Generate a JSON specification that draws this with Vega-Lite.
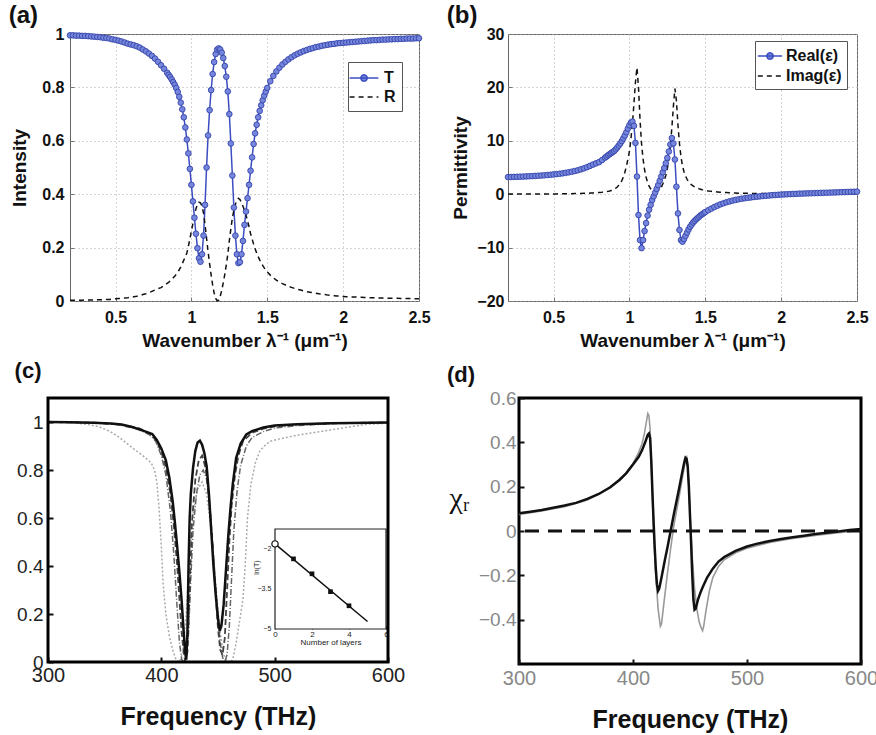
{
"$schema": "https://vega.github.io/schema/vega-lite/v6.json",
"background": "white",
"padding": {"left": 8, "top": 3, "right": 4, "bottom": 2},
"config": {"font": "Liberation Sans", "axis": {"labelFont": "Liberation Sans", "titleFont": "Liberation Sans"}, "title": {"font": "Liberation Sans"}},
"datasets": {
"ab": [
{"x":0.20,"T":0.995,"R":0.003,"Re":3.20,"Im":0.02},
{"x":0.22,"T":0.995,"R":0.003,"Re":3.22,"Im":0.02},
{"x":0.24,"T":0.994,"R":0.003,"Re":3.24,"Im":0.02},
{"x":0.26,"T":0.994,"R":0.003,"Re":3.26,"Im":0.02},
{"x":0.28,"T":0.993,"R":0.003,"Re":3.28,"Im":0.02},
{"x":0.30,"T":0.993,"R":0.004,"Re":3.30,"Im":0.03},
{"x":0.32,"T":0.992,"R":0.004,"Re":3.33,"Im":0.03},
{"x":0.34,"T":0.991,"R":0.004,"Re":3.36,"Im":0.03},
{"x":0.36,"T":0.990,"R":0.004,"Re":3.39,"Im":0.03},
{"x":0.38,"T":0.989,"R":0.005,"Re":3.42,"Im":0.04},
{"x":0.40,"T":0.988,"R":0.005,"Re":3.46,"Im":0.04},
{"x":0.42,"T":0.986,"R":0.005,"Re":3.50,"Im":0.04},
{"x":0.44,"T":0.985,"R":0.006,"Re":3.54,"Im":0.05},
{"x":0.46,"T":0.983,"R":0.006,"Re":3.59,"Im":0.05},
{"x":0.48,"T":0.980,"R":0.007,"Re":3.64,"Im":0.05},
{"x":0.50,"T":0.978,"R":0.008,"Re":3.70,"Im":0.06},
{"x":0.52,"T":0.975,"R":0.009,"Re":3.76,"Im":0.06},
{"x":0.54,"T":0.972,"R":0.010,"Re":3.83,"Im":0.07},
{"x":0.56,"T":0.968,"R":0.011,"Re":3.91,"Im":0.07},
{"x":0.58,"T":0.964,"R":0.012,"Re":4.00,"Im":0.08},
{"x":0.60,"T":0.961,"R":0.014,"Re":4.10,"Im":0.09},
{"x":0.62,"T":0.958,"R":0.016,"Re":4.21,"Im":0.10},
{"x":0.64,"T":0.954,"R":0.018,"Re":4.34,"Im":0.11},
{"x":0.66,"T":0.949,"R":0.021,"Re":4.48,"Im":0.12},
{"x":0.68,"T":0.942,"R":0.024,"Re":4.65,"Im":0.14},
{"x":0.70,"T":0.935,"R":0.027,"Re":4.84,"Im":0.16},
{"x":0.72,"T":0.927,"R":0.031,"Re":5.05,"Im":0.18},
{"x":0.74,"T":0.918,"R":0.036,"Re":5.30,"Im":0.21},
{"x":0.76,"T":0.908,"R":0.041,"Re":5.55,"Im":0.24},
{"x":0.78,"T":0.896,"R":0.046,"Re":5.78,"Im":0.28},
{"x":0.80,"T":0.883,"R":0.050,"Re":6.00,"Im":0.32},
{"x":0.82,"T":0.870,"R":0.058,"Re":6.40,"Im":0.37},
{"x":0.84,"T":0.855,"R":0.066,"Re":6.85,"Im":0.44},
{"x":0.85,"T":0.847,"R":0.070,"Re":7.05,"Im":0.48},
{"x":0.86,"T":0.839,"R":0.075,"Re":7.30,"Im":0.53},
{"x":0.87,"T":0.830,"R":0.081,"Re":7.50,"Im":0.60},
{"x":0.88,"T":0.820,"R":0.087,"Re":7.70,"Im":0.68},
{"x":0.89,"T":0.810,"R":0.093,"Re":7.90,"Im":0.80},
{"x":0.90,"T":0.798,"R":0.100,"Re":8.10,"Im":0.95},
{"x":0.91,"T":0.783,"R":0.108,"Re":8.40,"Im":1.12},
{"x":0.92,"T":0.765,"R":0.117,"Re":8.75,"Im":1.35},
{"x":0.93,"T":0.743,"R":0.128,"Re":9.10,"Im":1.65},
{"x":0.94,"T":0.718,"R":0.140,"Re":9.50,"Im":2.05},
{"x":0.95,"T":0.688,"R":0.153,"Re":9.95,"Im":2.55},
{"x":0.96,"T":0.650,"R":0.166,"Re":10.45,"Im":3.20},
{"x":0.97,"T":0.605,"R":0.180,"Re":11.00,"Im":4.10},
{"x":0.98,"T":0.553,"R":0.205,"Re":11.60,"Im":5.20},
{"x":0.99,"T":0.495,"R":0.232,"Re":12.30,"Im":6.50},
{"x":1.00,"T":0.435,"R":0.262,"Re":12.90,"Im":8.00},
{"x":1.01,"T":0.373,"R":0.290,"Re":13.40,"Im":10.30},
{"x":1.02,"T":0.312,"R":0.320,"Re":13.60,"Im":13.20},
{"x":1.03,"T":0.252,"R":0.345,"Re":12.80,"Im":17.00},
{"x":1.04,"T":0.198,"R":0.362,"Re":9.60,"Im":21.00},
{"x":1.05,"T":0.160,"R":0.370,"Re":3.30,"Im":23.70},
{"x":1.06,"T":0.147,"R":0.368,"Re":-3.90,"Im":20.00},
{"x":1.07,"T":0.175,"R":0.355,"Re":-8.60,"Im":14.00},
{"x":1.08,"T":0.245,"R":0.330,"Re":-10.10,"Im":9.50},
{"x":1.09,"T":0.360,"R":0.285,"Re":-8.60,"Im":6.60},
{"x":1.10,"T":0.500,"R":0.235,"Re":-6.90,"Im":4.60},
{"x":1.11,"T":0.620,"R":0.185,"Re":-5.40,"Im":3.20},
{"x":1.12,"T":0.715,"R":0.140,"Re":-4.00,"Im":2.20},
{"x":1.13,"T":0.790,"R":0.098,"Re":-2.90,"Im":1.50},
{"x":1.14,"T":0.850,"R":0.060,"Re":-2.00,"Im":1.00},
{"x":1.15,"T":0.895,"R":0.030,"Re":-1.10,"Im":0.70},
{"x":1.16,"T":0.925,"R":0.010,"Re":-0.40,"Im":0.50},
{"x":1.17,"T":0.942,"R":0.001,"Re":0.30,"Im":0.45},
{"x":1.18,"T":0.946,"R":0.003,"Re":1.00,"Im":0.50},
{"x":1.19,"T":0.942,"R":0.018,"Re":1.70,"Im":0.65},
{"x":1.20,"T":0.930,"R":0.040,"Re":2.50,"Im":0.90},
{"x":1.21,"T":0.910,"R":0.068,"Re":3.30,"Im":1.30},
{"x":1.22,"T":0.880,"R":0.100,"Re":4.10,"Im":1.90},
{"x":1.23,"T":0.840,"R":0.135,"Re":4.90,"Im":2.60},
{"x":1.24,"T":0.785,"R":0.175,"Re":5.80,"Im":3.50},
{"x":1.25,"T":0.700,"R":0.225,"Re":6.80,"Im":4.80},
{"x":1.26,"T":0.590,"R":0.270,"Re":8.00,"Im":6.50},
{"x":1.27,"T":0.470,"R":0.310,"Re":9.30,"Im":9.00},
{"x":1.28,"T":0.350,"R":0.340,"Re":10.50,"Im":12.50},
{"x":1.29,"T":0.245,"R":0.362,"Re":9.50,"Im":16.50},
{"x":1.30,"T":0.175,"R":0.378,"Re":6.50,"Im":19.80},
{"x":1.31,"T":0.142,"R":0.385,"Re":1.40,"Im":17.50},
{"x":1.32,"T":0.146,"R":0.380,"Re":-3.60,"Im":13.00},
{"x":1.33,"T":0.175,"R":0.368,"Re":-6.70,"Im":9.50},
{"x":1.34,"T":0.225,"R":0.355,"Re":-8.60,"Im":7.00},
{"x":1.35,"T":0.285,"R":0.340,"Re":-8.90,"Im":5.30},
{"x":1.36,"T":0.335,"R":0.322,"Re":-8.40,"Im":4.20},
{"x":1.37,"T":0.385,"R":0.300,"Re":-7.80,"Im":3.40},
{"x":1.38,"T":0.435,"R":0.278,"Re":-7.20,"Im":2.80},
{"x":1.39,"T":0.488,"R":0.252,"Re":-6.60,"Im":2.30},
{"x":1.40,"T":0.538,"R":0.232,"Re":-6.10,"Im":2.00},
{"x":1.41,"T":0.588,"R":0.213,"Re":-5.70,"Im":1.75},
{"x":1.42,"T":0.628,"R":0.196,"Re":-5.30,"Im":1.55},
{"x":1.43,"T":0.660,"R":0.180,"Re":-5.00,"Im":1.38},
{"x":1.44,"T":0.688,"R":0.166,"Re":-4.70,"Im":1.25},
{"x":1.45,"T":0.712,"R":0.154,"Re":-4.45,"Im":1.12},
{"x":1.46,"T":0.733,"R":0.143,"Re":-4.20,"Im":1.02},
{"x":1.47,"T":0.752,"R":0.133,"Re":-3.95,"Im":0.93},
{"x":1.48,"T":0.769,"R":0.124,"Re":-3.75,"Im":0.85},
{"x":1.49,"T":0.784,"R":0.116,"Re":-3.55,"Im":0.78},
{"x":1.50,"T":0.798,"R":0.109,"Re":-3.35,"Im":0.72},
{"x":1.52,"T":0.823,"R":0.097,"Re":-3.00,"Im":0.62},
{"x":1.54,"T":0.843,"R":0.087,"Re":-2.70,"Im":0.54},
{"x":1.56,"T":0.860,"R":0.078,"Re":-2.40,"Im":0.47},
{"x":1.58,"T":0.874,"R":0.071,"Re":-2.15,"Im":0.41},
{"x":1.60,"T":0.886,"R":0.065,"Re":-1.90,"Im":0.36},
{"x":1.62,"T":0.896,"R":0.060,"Re":-1.70,"Im":0.33},
{"x":1.64,"T":0.905,"R":0.055,"Re":-1.50,"Im":0.30},
{"x":1.66,"T":0.913,"R":0.051,"Re":-1.35,"Im":0.27},
{"x":1.68,"T":0.920,"R":0.047,"Re":-1.20,"Im":0.24},
{"x":1.70,"T":0.926,"R":0.044,"Re":-1.07,"Im":0.22},
{"x":1.72,"T":0.931,"R":0.041,"Re":-0.95,"Im":0.20},
{"x":1.74,"T":0.936,"R":0.038,"Re":-0.85,"Im":0.18},
{"x":1.76,"T":0.940,"R":0.035,"Re":-0.76,"Im":0.17},
{"x":1.78,"T":0.944,"R":0.033,"Re":-0.68,"Im":0.16},
{"x":1.80,"T":0.947,"R":0.031,"Re":-0.60,"Im":0.15},
{"x":1.82,"T":0.951,"R":0.029,"Re":-0.53,"Im":0.14},
{"x":1.84,"T":0.953,"R":0.027,"Re":-0.46,"Im":0.13},
{"x":1.86,"T":0.956,"R":0.025,"Re":-0.40,"Im":0.12},
{"x":1.88,"T":0.958,"R":0.024,"Re":-0.34,"Im":0.11},
{"x":1.90,"T":0.960,"R":0.022,"Re":-0.29,"Im":0.11},
{"x":1.92,"T":0.962,"R":0.021,"Re":-0.24,"Im":0.10},
{"x":1.94,"T":0.963,"R":0.020,"Re":-0.19,"Im":0.10},
{"x":1.96,"T":0.965,"R":0.019,"Re":-0.15,"Im":0.09},
{"x":1.98,"T":0.966,"R":0.018,"Re":-0.11,"Im":0.09},
{"x":2.00,"T":0.967,"R":0.017,"Re":-0.07,"Im":0.08},
{"x":2.02,"T":0.968,"R":0.016,"Re":-0.04,"Im":0.08},
{"x":2.04,"T":0.969,"R":0.016,"Re":-0.01,"Im":0.08},
{"x":2.06,"T":0.970,"R":0.015,"Re":0.02,"Im":0.07},
{"x":2.08,"T":0.971,"R":0.015,"Re":0.05,"Im":0.07},
{"x":2.10,"T":0.972,"R":0.014,"Re":0.07,"Im":0.07},
{"x":2.12,"T":0.973,"R":0.014,"Re":0.10,"Im":0.07},
{"x":2.14,"T":0.974,"R":0.013,"Re":0.12,"Im":0.06},
{"x":2.16,"T":0.975,"R":0.013,"Re":0.14,"Im":0.06},
{"x":2.18,"T":0.976,"R":0.012,"Re":0.16,"Im":0.06},
{"x":2.20,"T":0.977,"R":0.012,"Re":0.18,"Im":0.06},
{"x":2.22,"T":0.977,"R":0.012,"Re":0.20,"Im":0.06},
{"x":2.24,"T":0.978,"R":0.011,"Re":0.22,"Im":0.05},
{"x":2.26,"T":0.979,"R":0.011,"Re":0.24,"Im":0.05},
{"x":2.28,"T":0.979,"R":0.011,"Re":0.26,"Im":0.05},
{"x":2.30,"T":0.980,"R":0.010,"Re":0.28,"Im":0.05},
{"x":2.32,"T":0.980,"R":0.010,"Re":0.30,"Im":0.05},
{"x":2.34,"T":0.981,"R":0.010,"Re":0.32,"Im":0.05},
{"x":2.36,"T":0.981,"R":0.010,"Re":0.34,"Im":0.04},
{"x":2.38,"T":0.982,"R":0.009,"Re":0.36,"Im":0.04},
{"x":2.40,"T":0.982,"R":0.009,"Re":0.38,"Im":0.04},
{"x":2.42,"T":0.983,"R":0.009,"Re":0.40,"Im":0.04},
{"x":2.44,"T":0.983,"R":0.009,"Re":0.42,"Im":0.04},
{"x":2.46,"T":0.983,"R":0.009,"Re":0.44,"Im":0.04},
{"x":2.48,"T":0.984,"R":0.008,"Re":0.46,"Im":0.04},
{"x":2.50,"T":0.984,"R":0.008,"Re":0.48,"Im":0.04}
],
"c": [
{"s":"c4","f":300,"v":1.0},{"s":"c4","f":320,"v":0.998},{"s":"c4","f":335,"v":0.99},{"s":"c4","f":345,"v":0.98},{"s":"c4","f":355,"v":0.96},{"s":"c4","f":363,"v":0.936},{"s":"c4","f":375,"v":0.89},{"s":"c4","f":385,"v":0.855},{"s":"c4","f":391,"v":0.83},{"s":"c4","f":394,"v":0.8},{"s":"c4","f":396,"v":0.75},{"s":"c4","f":398,"v":0.64},{"s":"c4","f":400,"v":0.48},{"s":"c4","f":401.5,"v":0.33},{"s":"c4","f":404,"v":0.2},{"s":"c4","f":407,"v":0.11},{"s":"c4","f":410,"v":0.05},{"s":"c4","f":413,"v":0.01},{"s":"c4","f":416,"v":0.0},{"s":"c4","f":419,"v":0.04},{"s":"c4","f":422,"v":0.2},{"s":"c4","f":425,"v":0.45},{"s":"c4","f":428,"v":0.62},{"s":"c4","f":432,"v":0.72},{"s":"c4","f":436,"v":0.75},{"s":"c4","f":440,"v":0.7},{"s":"c4","f":444,"v":0.55},{"s":"c4","f":448,"v":0.32},{"s":"c4","f":452,"v":0.12},{"s":"c4","f":455,"v":0.03},{"s":"c4","f":458,"v":0.0},{"s":"c4","f":461,"v":0.0},{"s":"c4","f":463,"v":0.01},{"s":"c4","f":466,"v":0.08},{"s":"c4","f":469,"v":0.17},{"s":"c4","f":472,"v":0.26},{"s":"c4","f":474,"v":0.4},{"s":"c4","f":476,"v":0.6},{"s":"c4","f":479,"v":0.74},{"s":"c4","f":483,"v":0.83},{"s":"c4","f":487,"v":0.88},{"s":"c4","f":492,"v":0.905},{"s":"c4","f":496,"v":0.92},{"s":"c4","f":505,"v":0.93},{"s":"c4","f":520,"v":0.945},{"s":"c4","f":540,"v":0.96},{"s":"c4","f":560,"v":0.975},{"s":"c4","f":580,"v":0.99},{"s":"c4","f":600,"v":0.995},
{"s":"c3","f":300,"v":1.0},{"s":"c3","f":340,"v":0.996},{"s":"c3","f":360,"v":0.99},{"s":"c3","f":380,"v":0.97},{"s":"c3","f":390,"v":0.945},{"s":"c3","f":395,"v":0.92},{"s":"c3","f":400,"v":0.86},{"s":"c3","f":404,"v":0.78},{"s":"c3","f":408,"v":0.63},{"s":"c3","f":411,"v":0.45},{"s":"c3","f":414,"v":0.22},{"s":"c3","f":416,"v":0.08},{"s":"c3","f":418,"v":0.01},{"s":"c3","f":420,"v":0.0},{"s":"c3","f":422,"v":0.02},{"s":"c3","f":424,"v":0.12},{"s":"c3","f":426,"v":0.35},{"s":"c3","f":428,"v":0.55},{"s":"c3","f":431,"v":0.7},{"s":"c3","f":434,"v":0.78},{"s":"c3","f":437,"v":0.8},{"s":"c3","f":440,"v":0.76},{"s":"c3","f":443,"v":0.64},{"s":"c3","f":446,"v":0.45},{"s":"c3","f":449,"v":0.24},{"s":"c3","f":452,"v":0.08},{"s":"c3","f":454,"v":0.02},{"s":"c3","f":456,"v":0.0},{"s":"c3","f":458,"v":0.03},{"s":"c3","f":460,"v":0.15},{"s":"c3","f":462,"v":0.35},{"s":"c3","f":464,"v":0.55},{"s":"c3","f":467,"v":0.72},{"s":"c3","f":470,"v":0.82},{"s":"c3","f":475,"v":0.9},{"s":"c3","f":480,"v":0.935},{"s":"c3","f":490,"v":0.96},{"s":"c3","f":500,"v":0.975},{"s":"c3","f":520,"v":0.985},{"s":"c3","f":550,"v":0.993},{"s":"c3","f":600,"v":0.998},
{"s":"c2","f":300,"v":1.0},{"s":"c2","f":340,"v":0.997},{"s":"c2","f":360,"v":0.992},{"s":"c2","f":380,"v":0.975},{"s":"c2","f":390,"v":0.952},{"s":"c2","f":396,"v":0.92},{"s":"c2","f":400,"v":0.875},{"s":"c2","f":404,"v":0.81},{"s":"c2","f":408,"v":0.7},{"s":"c2","f":411,"v":0.57},{"s":"c2","f":414,"v":0.4},{"s":"c2","f":416,"v":0.26},{"s":"c2","f":418,"v":0.12},{"s":"c2","f":420,"v":0.03},{"s":"c2","f":421,"v":0.005},{"s":"c2","f":423,"v":0.04},{"s":"c2","f":425,"v":0.3},{"s":"c2","f":427,"v":0.58},{"s":"c2","f":430,"v":0.76},{"s":"c2","f":433,"v":0.84},{"s":"c2","f":436,"v":0.86},{"s":"c2","f":439,"v":0.81},{"s":"c2","f":442,"v":0.69},{"s":"c2","f":445,"v":0.5},{"s":"c2","f":448,"v":0.28},{"s":"c2","f":450,"v":0.14},{"s":"c2","f":452,"v":0.05},{"s":"c2","f":454,"v":0.03},{"s":"c2","f":456,"v":0.1},{"s":"c2","f":458,"v":0.3},{"s":"c2","f":460,"v":0.5},{"s":"c2","f":462,"v":0.65},{"s":"c2","f":465,"v":0.78},{"s":"c2","f":468,"v":0.86},{"s":"c2","f":472,"v":0.92},{"s":"c2","f":480,"v":0.955},{"s":"c2","f":490,"v":0.972},{"s":"c2","f":500,"v":0.982},{"s":"c2","f":520,"v":0.99},{"s":"c2","f":550,"v":0.995},{"s":"c2","f":600,"v":0.998},
{"s":"c1","f":300,"v":1.0},{"s":"c1","f":320,"v":0.999},{"s":"c1","f":340,"v":0.997},{"s":"c1","f":355,"v":0.994},{"s":"c1","f":365,"v":0.99},{"s":"c1","f":375,"v":0.978},{"s":"c1","f":385,"v":0.962},{"s":"c1","f":392,"v":0.95},{"s":"c1","f":396,"v":0.925},{"s":"c1","f":400,"v":0.89},{"s":"c1","f":404,"v":0.84},{"s":"c1","f":407,"v":0.77},{"s":"c1","f":410,"v":0.67},{"s":"c1","f":412,"v":0.58},{"s":"c1","f":414,"v":0.48},{"s":"c1","f":416,"v":0.37},{"s":"c1","f":418,"v":0.25},{"s":"c1","f":419.5,"v":0.14},{"s":"c1","f":421,"v":0.04},{"s":"c1","f":422,"v":0.01},{"s":"c1","f":423,"v":0.12},{"s":"c1","f":424,"v":0.4},{"s":"c1","f":425,"v":0.6},{"s":"c1","f":426,"v":0.7},{"s":"c1","f":428,"v":0.81},{"s":"c1","f":430,"v":0.88},{"s":"c1","f":432,"v":0.915},{"s":"c1","f":434,"v":0.922},{"s":"c1","f":436,"v":0.905},{"s":"c1","f":438,"v":0.87},{"s":"c1","f":440,"v":0.815},{"s":"c1","f":442,"v":0.7},{"s":"c1","f":444,"v":0.55},{"s":"c1","f":446,"v":0.4},{"s":"c1","f":448,"v":0.28},{"s":"c1","f":450,"v":0.18},{"s":"c1","f":451.5,"v":0.13},{"s":"c1","f":453,"v":0.15},{"s":"c1","f":455,"v":0.24},{"s":"c1","f":457,"v":0.38},{"s":"c1","f":459,"v":0.52},{"s":"c1","f":461,"v":0.64},{"s":"c1","f":463,"v":0.74},{"s":"c1","f":466,"v":0.85},{"s":"c1","f":470,"v":0.91},{"s":"c1","f":475,"v":0.948},{"s":"c1","f":480,"v":0.962},{"s":"c1","f":490,"v":0.977},{"s":"c1","f":500,"v":0.985},{"s":"c1","f":520,"v":0.991},{"s":"c1","f":550,"v":0.995},{"s":"c1","f":600,"v":0.998}
],
"inset": [{"n":0,"lnT":-1.81},{"n":1,"lnT":-2.37},{"n":2,"lnT":-2.93},{"n":3,"lnT":-3.6},{"n":4,"lnT":-4.13}],
"insetline": [{"n":0,"lnT":-1.81},{"n":5,"lnT":-4.72}],
"insetylabels": [{"t":"−5","yv":-5},{"t":"−3.5","yv":-3.5},{"t":"−2","yv":-2}],
"d": [
{"s":"d2","f":300,"v":0.075},{"s":"d2","f":320,"v":0.09},{"s":"d2","f":340,"v":0.11},{"s":"d2","f":360,"v":0.14},{"s":"d2","f":380,"v":0.195},{"s":"d2","f":390,"v":0.235},{"s":"d2","f":400,"v":0.305},{"s":"d2","f":405,"v":0.355},{"s":"d2","f":408,"v":0.395},{"s":"d2","f":410,"v":0.44},{"s":"d2","f":412,"v":0.5},{"s":"d2","f":413,"v":0.53},{"s":"d2","f":414,"v":0.52},{"s":"d2","f":415,"v":0.46},{"s":"d2","f":416,"v":0.32},{"s":"d2","f":417,"v":0.16},{"s":"d2","f":418,"v":0.0},{"s":"d2","f":420,"v":-0.2},{"s":"d2","f":422,"v":-0.35},{"s":"d2","f":424,"v":-0.43},{"s":"d2","f":425,"v":-0.42},{"s":"d2","f":427,"v":-0.33},{"s":"d2","f":430,"v":-0.2},{"s":"d2","f":433,"v":-0.08},{"s":"d2","f":436,"v":0.03},{"s":"d2","f":440,"v":0.14},{"s":"d2","f":444,"v":0.26},{"s":"d2","f":446,"v":0.32},{"s":"d2","f":447,"v":0.34},{"s":"d2","f":448,"v":0.3},{"s":"d2","f":449,"v":0.2},{"s":"d2","f":450,"v":0.08},{"s":"d2","f":452,"v":-0.12},{"s":"d2","f":454,"v":-0.26},{"s":"d2","f":456,"v":-0.35},{"s":"d2","f":458,"v":-0.41},{"s":"d2","f":460,"v":-0.44},{"s":"d2","f":461,"v":-0.45},{"s":"d2","f":462,"v":-0.43},{"s":"d2","f":464,"v":-0.36},{"s":"d2","f":467,"v":-0.27},{"s":"d2","f":470,"v":-0.21},{"s":"d2","f":475,"v":-0.16},{"s":"d2","f":480,"v":-0.13},{"s":"d2","f":490,"v":-0.098},{"s":"d2","f":500,"v":-0.078},{"s":"d2","f":520,"v":-0.052},{"s":"d2","f":540,"v":-0.034},{"s":"d2","f":560,"v":-0.02},{"s":"d2","f":580,"v":-0.008},{"s":"d2","f":600,"v":0.003},
{"s":"d1","f":300,"v":0.08},{"s":"d1","f":310,"v":0.087},{"s":"d1","f":320,"v":0.095},{"s":"d1","f":330,"v":0.105},{"s":"d1","f":340,"v":0.115},{"s":"d1","f":350,"v":0.127},{"s":"d1","f":360,"v":0.145},{"s":"d1","f":370,"v":0.167},{"s":"d1","f":380,"v":0.197},{"s":"d1","f":388,"v":0.23},{"s":"d1","f":394,"v":0.26},{"s":"d1","f":400,"v":0.3},{"s":"d1","f":405,"v":0.335},{"s":"d1","f":408,"v":0.365},{"s":"d1","f":411,"v":0.405},{"s":"d1","f":413,"v":0.435},{"s":"d1","f":414,"v":0.44},{"s":"d1","f":415,"v":0.42},{"s":"d1","f":416,"v":0.32},{"s":"d1","f":417,"v":0.18},{"s":"d1","f":418,"v":0.05},{"s":"d1","f":419,"v":-0.07},{"s":"d1","f":420,"v":-0.17},{"s":"d1","f":421,"v":-0.24},{"s":"d1","f":422,"v":-0.27},{"s":"d1","f":423,"v":-0.26},{"s":"d1","f":425,"v":-0.21},{"s":"d1","f":428,"v":-0.13},{"s":"d1","f":430,"v":-0.08},{"s":"d1","f":433,"v":0.0},{"s":"d1","f":436,"v":0.08},{"s":"d1","f":440,"v":0.18},{"s":"d1","f":443,"v":0.26},{"s":"d1","f":445,"v":0.31},{"s":"d1","f":446,"v":0.33},{"s":"d1","f":447,"v":0.325},{"s":"d1","f":448,"v":0.29},{"s":"d1","f":449,"v":0.2},{"s":"d1","f":450,"v":0.07},{"s":"d1","f":451,"v":-0.06},{"s":"d1","f":452,"v":-0.2},{"s":"d1","f":453,"v":-0.31},{"s":"d1","f":454,"v":-0.355},{"s":"d1","f":455,"v":-0.35},{"s":"d1","f":457,"v":-0.31},{"s":"d1","f":459,"v":-0.28},{"s":"d1","f":461,"v":-0.255},{"s":"d1","f":465,"v":-0.21},{"s":"d1","f":470,"v":-0.17},{"s":"d1","f":475,"v":-0.138},{"s":"d1","f":480,"v":-0.118},{"s":"d1","f":490,"v":-0.09},{"s":"d1","f":500,"v":-0.07},{"s":"d1","f":510,"v":-0.056},{"s":"d1","f":520,"v":-0.045},{"s":"d1","f":530,"v":-0.036},{"s":"d1","f":540,"v":-0.028},{"s":"d1","f":550,"v":-0.021},{"s":"d1","f":560,"v":-0.014},{"s":"d1","f":570,"v":-0.008},{"s":"d1","f":580,"v":-0.002},{"s":"d1","f":590,"v":0.004},{"s":"d1","f":600,"v":0.009}
]
},
"spacing": 8,
"vconcat": [
{
"spacing": 15,
"resolve": {"scale": {"color": "independent", "strokeDash": "independent"}, "legend": {"color": "independent", "strokeDash": "independent"}},
"hconcat": [
{
"width": 349, "height": 267,
"view": {"stroke": "#666", "strokeWidth": 1},
"title": {"text": "(a)", "anchor": "start", "frame": "bounds", "fontSize": 24, "fontWeight": "bold", "offset": -2, "dx": -2, "color": "#111"},
"data": {"name": "ab"},
"transform": [{"fold": ["T", "R"], "as": ["series", "val"]}],
"encoding": {
"x": {"field": "x", "type": "quantitative", "scale": {"domain": [0.2, 2.5], "nice": false, "zero": false},
 "axis": {"title": "Wavenumber λ⁻¹ (μm⁻¹)", "values": [0.5, 1, 1.5, 2, 2.5], "format": "~g", "labelFontSize": 16, "labelFontWeight": "bold", "labelColor": "#111", "titleFontSize": 19, "titleFontWeight": "bold", "titleColor": "#111", "titlePadding": 6, "tickSize": -4, "tickColor": "#777", "labelPadding": 12, "domain": false, "grid": true, "gridDash": [1, 3], "gridColor": "#aaa", "labelFlush": false, "labelOverlap": false}},
"y": {"field": "val", "type": "quantitative", "scale": {"domain": [0, 1], "nice": false},
 "axis": {"title": "Intensity", "values": [0, 0.2, 0.4, 0.6, 0.8, 1], "format": "~g", "labelFontSize": 16, "labelFontWeight": "bold", "labelColor": "#111", "titleFontSize": 19, "titleFontWeight": "bold", "titleColor": "#111", "titlePadding": 12, "tickSize": -4, "tickColor": "#777", "labelPadding": 10, "domain": false, "grid": true, "gridDash": [1, 3], "gridColor": "#aaa", "labelOverlap": false}}
},
"layer": [
{"mark": {"type": "line", "strokeWidth": 1.5},
 "encoding": {
  "color": {"field": "series", "type": "nominal", "scale": {"domain": ["T", "R"], "range": ["#3b4cc0", "#111111"]},
   "legend": {"title": null, "orient": "none", "legendX": 278, "legendY": 28, "fillColor": "white", "strokeColor": "#555", "padding": 6, "labelFontSize": 16, "labelFontWeight": "bold", "labelColor": "#111", "symbolSize": 324, "symbolStrokeWidth": 1.5, "rowPadding": 1, "labelOffset": 10, "symbolType": "stroke",
    "encode": {"symbols": {"update": {"shape": {"signal": "datum.value === 'T' ? 'M-1.6,0H1.6M-0.35,0A0.35,0.35,0,1,1,0.35,0A0.35,0.35,0,1,1,-0.35,0' : 'M-1.6,0H1.6'"}, "fill": {"signal": "datum.value === 'T' ? '#7686dc' : 'transparent'"}}}}}},
  "strokeDash": {"field": "series", "type": "nominal", "scale": {"domain": ["T", "R"], "range": [[1, 0], [5, 4]]},
   "legend": {"title": null, "orient": "none", "legendX": 278, "legendY": 28, "fillColor": "white", "strokeColor": "#555", "padding": 6, "labelFontSize": 16, "labelFontWeight": "bold", "labelColor": "#111", "symbolSize": 324, "symbolStrokeWidth": 1.5, "rowPadding": 1, "labelOffset": 10, "symbolType": "stroke",
    "encode": {"symbols": {"update": {"shape": {"signal": "datum.value === 'T' ? 'M-1.6,0H1.6M-0.35,0A0.35,0.35,0,1,1,0.35,0A0.35,0.35,0,1,1,-0.35,0' : 'M-1.6,0H1.6'"}, "fill": {"signal": "datum.value === 'T' ? '#7686dc' : 'transparent'"}}}}}}
 }},
{"transform": [{"filter": "datum.series == 'T'"}],
 "mark": {"type": "point", "filled": true, "size": 32, "fill": "#7686dc", "stroke": "#3344aa", "strokeWidth": 0.9, "opacity": 1}}
]
},
{
"width": 349, "height": 267,
"view": {"stroke": "#666", "strokeWidth": 1},
"title": {"text": "(b)", "anchor": "start", "frame": "bounds", "fontSize": 24, "fontWeight": "bold", "offset": -2, "dx": -5, "color": "#111"},
"data": {"name": "ab"},
"transform": [{"fold": ["Re", "Im"], "as": ["series", "val"]}],
"encoding": {
"x": {"field": "x", "type": "quantitative", "scale": {"domain": [0.2, 2.5], "nice": false, "zero": false},
 "axis": {"title": "Wavenumber λ⁻¹ (μm⁻¹)", "values": [0.5, 1, 1.5, 2, 2.5], "format": "~g", "labelFontSize": 16, "labelFontWeight": "bold", "labelColor": "#111", "titleFontSize": 19, "titleFontWeight": "bold", "titleColor": "#111", "titlePadding": 6, "tickSize": -4, "tickColor": "#777", "labelPadding": 12, "domain": false, "grid": true, "gridDash": [1, 3], "gridColor": "#aaa", "labelFlush": false, "labelOverlap": false}},
"y": {"field": "val", "type": "quantitative", "scale": {"domain": [-20, 30], "nice": false, "zero": false},
 "axis": {"title": "Permittivity", "values": [-20, -10, 0, 10, 20, 30], "format": "d", "labelFontSize": 16, "labelFontWeight": "bold", "labelColor": "#111", "titleFontSize": 19, "titleFontWeight": "bold", "titleColor": "#111", "titlePadding": 6, "tickSize": -4, "tickColor": "#777", "labelPadding": 8, "domain": false, "grid": true, "gridDash": [1, 3], "gridColor": "#aaa", "labelOverlap": false}}
},
"layer": [
{"mark": {"type": "line", "strokeWidth": 1.5},
 "encoding": {
  "color": {"field": "series", "type": "nominal", "scale": {"domain": ["Re", "Im"], "range": ["#3b4cc0", "#111111"]},
   "legend": {"title": null, "orient": "none", "legendX": 247, "legendY": 7, "fillColor": "white", "strokeColor": "#555", "padding": 5, "labelFontSize": 16, "labelFontWeight": "bold", "labelColor": "#111", "symbolSize": 324, "symbolStrokeWidth": 1.5, "rowPadding": 2, "labelOffset": 6, "symbolType": "stroke",
    "labelExpr": "datum.value == 'Re' ? 'Real(ε)' : 'Imag(ε)'",
    "encode": {"symbols": {"update": {"shape": {"signal": "datum.value === 'Re' ? 'M-1.35,0H1.35M-0.35,0A0.35,0.35,0,1,1,0.35,0A0.35,0.35,0,1,1,-0.35,0' : 'M-1.35,0H1.35'"}, "fill": {"signal": "datum.value === 'Re' ? '#7686dc' : 'transparent'"}}}}}},
  "strokeDash": {"field": "series", "type": "nominal", "scale": {"domain": ["Re", "Im"], "range": [[1, 0], [5, 4]]},
   "legend": {"title": null, "orient": "none", "legendX": 247, "legendY": 7, "fillColor": "white", "strokeColor": "#555", "padding": 5, "labelFontSize": 16, "labelFontWeight": "bold", "labelColor": "#111", "symbolSize": 324, "symbolStrokeWidth": 1.5, "rowPadding": 2, "labelOffset": 6, "symbolType": "stroke",
    "labelExpr": "datum.value == 'Re' ? 'Real(ε)' : 'Imag(ε)'",
    "encode": {"symbols": {"update": {"shape": {"signal": "datum.value === 'Re' ? 'M-1.35,0H1.35M-0.35,0A0.35,0.35,0,1,1,0.35,0A0.35,0.35,0,1,1,-0.35,0' : 'M-1.35,0H1.35'"}, "fill": {"signal": "datum.value === 'Re' ? '#7686dc' : 'transparent'"}}}}}}
 }},
{"transform": [{"filter": "datum.series == 'Re'"}],
 "mark": {"type": "point", "filled": true, "size": 32, "fill": "#7686dc", "stroke": "#3344aa", "strokeWidth": 0.9, "opacity": 1}}
]
}
]
},
{
"spacing": 35,
"hconcat": [
{
"width": 318, "height": 264,
"view": {"stroke": null},
"title": {"text": "(c)", "anchor": "start", "frame": "bounds", "fontSize": 22, "fontWeight": "bold", "offset": 14, "dx": -2, "color": "#111"},
"layer": [
{
"data": {"name": "c"},
"encoding": {
"x": {"field": "f", "type": "quantitative", "scale": {"domain": [300, 600], "range": [-22, 318], "nice": false, "zero": false},
 "axis": {"title": "Frequency (THz)", "values": [300, 400, 500, 600], "labelFontSize": 20, "labelColor": "#222", "titleFontSize": 25, "titleFontWeight": "bold", "titleColor": "#111", "titlePadding": 19, "tickSize": -5, "tickWidth": 2, "tickColor": "#111", "labelPadding": 8, "domain": false, "grid": false, "labelFlush": false, "labelOverlap": false}},
"y": {"field": "v", "type": "quantitative", "scale": {"domain": [0, 1.1], "nice": false},
 "axis": {"title": null, "offset": 22, "values": [0, 0.2, 0.4, 0.6, 0.8, 1], "format": "~g", "labelFontSize": 19, "labelColor": "#222", "tickSize": -5, "tickWidth": 2, "tickColor": "#111", "labelPadding": 10, "domain": false, "grid": false, "labelOverlap": false}}
},
"layer": [
{"transform": [{"filter": "datum.s == 'c4'"}], "mark": {"type": "line", "color": "#aaaaaa", "strokeWidth": 1.5, "strokeDash": [2, 2]}},
{"transform": [{"filter": "datum.s == 'c3'"}], "mark": {"type": "line", "color": "#666666", "strokeWidth": 1.5, "strokeDash": [6, 2, 1, 2]}},
{"transform": [{"filter": "datum.s == 'c2'"}], "mark": {"type": "line", "color": "#444444", "strokeWidth": 1.8, "strokeDash": [6, 3]}},
{"transform": [{"filter": "datum.s == 'c1'"}], "mark": {"type": "line", "color": "#111111", "strokeWidth": 2.5}}
]
},
{
"layer": [
{"data": {"values": [{}]}, "mark": {"type": "rect", "fill": "white", "stroke": "#222", "strokeWidth": 1.2},
 "encoding": {
  "x": {"datum": 0, "type": "quantitative", "scale": {"domain": [0, 6], "range": [205, 316], "nice": false, "zero": false},
   "axis": {"orient": "bottom", "offset": -33, "title": "Number of layers", "values": [0, 2, 4, 6], "format": "d", "labelFontSize": 8, "labelColor": "#222", "titleFontSize": 8, "titleFontWeight": "normal", "titleColor": "#222", "titlePadding": 0, "tickSize": -3, "tickColor": "#222", "labelPadding": 4, "domain": false, "grid": false, "labelFlush": false, "labelOverlap": false}},
  "x2": {"datum": 6},
  "y": {"datum": -5, "type": "quantitative", "scale": {"domain": [-5, -1.25], "range": [231, 131], "nice": false, "zero": false}, "axis": null},
  "y2": {"datum": -1.25}
 }},
{"data": {"name": "insetline"}, "mark": {"type": "line", "color": "#111", "strokeWidth": 1.5},
 "encoding": {"x": {"field": "n", "type": "quantitative"}, "y": {"field": "lnT", "type": "quantitative"}}},
{"data": {"name": "inset"}, "transform": [{"filter": "datum.n > 0"}], "mark": {"type": "point", "shape": "square", "filled": true, "color": "#111", "size": 22, "opacity": 1},
 "encoding": {"x": {"field": "n", "type": "quantitative"}, "y": {"field": "lnT", "type": "quantitative"}}},
{"data": {"name": "inset"}, "transform": [{"filter": "datum.n == 0"}], "mark": {"type": "point", "shape": "circle", "filled": false, "fill": "white", "stroke": "#111", "strokeWidth": 1.2, "size": 40, "opacity": 1},
 "encoding": {"x": {"field": "n", "type": "quantitative"}, "y": {"field": "lnT", "type": "quantitative"}}},
{"data": {"name": "insetylabels"}, "mark": {"type": "text", "align": "right", "baseline": "middle", "fontSize": 7, "color": "#222"},
 "encoding": {"x": {"datum": -0.2, "type": "quantitative"}, "y": {"field": "yv", "type": "quantitative"}, "text": {"field": "t"}}},
{"data": {"values": [{}]}, "mark": {"type": "text", "align": "center", "baseline": "middle", "fontSize": 7, "angle": 270, "color": "#222"},
 "encoding": {"x": {"datum": -1.0, "type": "quantitative"}, "y": {"datum": -2.7, "type": "quantitative"}, "text": {"value": "ln(T)"}}}
]
},
{
"layer": [
{"data": {"values": [{}]}, "mark": {"type": "rect", "fill": "#ffffff", "fillOpacity": 0, "stroke": "#000000", "strokeWidth": 3},
 "encoding": {
  "x": {"datum": 300, "type": "quantitative", "scale": {"domain": [300, 600], "range": [-22, 318], "nice": false, "zero": false}, "axis": null},
  "x2": {"datum": 600},
  "y": {"datum": 0, "type": "quantitative", "scale": {"domain": [0, 1.1], "nice": false, "zero": false}, "axis": null},
  "y2": {"datum": 1.1}
 }}
]
}
],
"resolve": {"scale": {"x": "independent", "y": "independent"}, "axis": {"x": "independent", "y": "independent"}}
},
{
"width": 342, "height": 266,
"view": {"stroke": "black", "strokeWidth": 3},
"title": {"text": "(d)", "anchor": "start", "frame": "bounds", "fontSize": 22, "fontWeight": "bold", "offset": 2, "dx": -2, "color": "#111"},
"layer": [
{"data": {"name": "d"}, "transform": [{"filter": "datum.s == 'd2'"}], "mark": {"type": "line", "color": "#9a9a9a", "strokeWidth": 1.6},
 "encoding": {
  "x": {"field": "f", "type": "quantitative", "scale": {"domain": [300, 600], "nice": false, "zero": false},
   "axis": {"title": "Frequency (THz)", "values": [300, 400, 500, 600], "labelFontSize": 20, "labelColor": "#888", "titleFontSize": 25, "titleFontWeight": "bold", "titleColor": "#111", "titlePadding": 19, "tickSize": -5, "tickWidth": 2, "tickColor": "#111", "labelPadding": 9, "domain": false, "grid": false, "labelFlush": false, "labelOverlap": false}},
  "y": {"field": "v", "type": "quantitative", "scale": {"domain": [-0.6, 0.6], "nice": false, "zero": false},
   "axis": {"title": "χᵣ", "titleAngle": 0, "titleFontSize": 30, "titleFont": "Liberation Serif", "titleFontWeight": "normal", "titleColor": "#111", "titleX": -60, "titleY": 100, "titleAlign": "center", "titleBaseline": "middle", "values": [-0.4, -0.2, 0, 0.2, 0.4, 0.6], "format": "~g", "labelFontSize": 19, "labelColor": "#888", "tickSize": -5, "tickWidth": 2, "tickColor": "#111", "labelPadding": 8, "domain": false, "grid": false, "labelOverlap": false}}
 }},
{"data": {"name": "d"}, "transform": [{"filter": "datum.s == 'd1'"}], "mark": {"type": "line", "color": "#111111", "strokeWidth": 2.5},
 "encoding": {"x": {"field": "f", "type": "quantitative"}, "y": {"field": "v", "type": "quantitative"}}},
{"data": {"values": [{}]}, "mark": {"type": "rule", "strokeDash": [14, 9], "strokeWidth": 3, "color": "#111"},
 "encoding": {"y": {"datum": 0, "type": "quantitative"}}}
]
}
]
}
]
}
